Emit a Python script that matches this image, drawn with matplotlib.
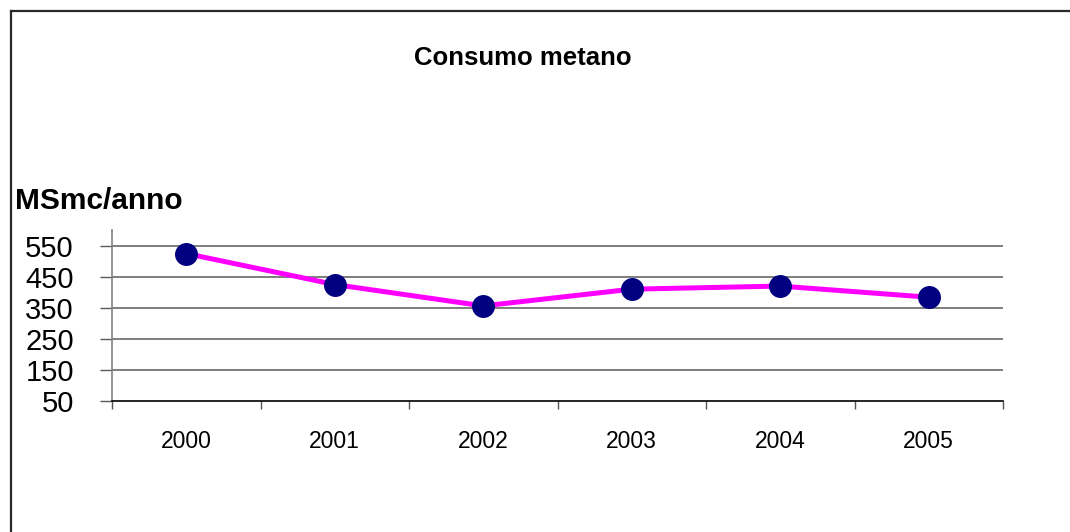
import matplotlib
matplotlib.use('Agg')
import matplotlib.pyplot as plt
from matplotlib.lines import Line2D
import numpy as np

plt.rcParams['font.family'] = ['Liberation Sans', 'DejaVu Sans']

# dati
anni = ['2000', '2001', '2002', '2003', '2004', '2005']
consumo = [526, 426, 357, 411, 421, 385]
y_ticks = [50, 150, 250, 350, 450, 550]

W, H = 1070, 532
fig = plt.figure(figsize=(W / 100, H / 100), dpi=100)
ax = fig.add_axes([112 / W, 1 - 401 / H, (1003 - 112) / W, (401 - 230) / H])

x = np.arange(len(anni))
ax.plot(x, consumo, color='#FF00FF', linewidth=3.6, zorder=3)
ax.plot(x, consumo, linestyle='none', marker='o', markersize=15.5,
        markerfacecolor='#000080', markeredgecolor='#000080', zorder=4)

ax.set_xlim(-0.5, len(anni) - 0.5)
ax.set_ylim(50, 602)

# griglia orizzontale
for v in y_ticks[1:]:
    ax.axhline(v, color='#5a5a5a', linewidth=1.1, zorder=1)

ax.set_yticks(y_ticks)
ax.set_yticklabels([str(v) for v in y_ticks], fontsize=21)
ax.tick_params(axis='y', length=8.5, width=1, color='#5a5a5a', pad=19)

# tacche tra le categorie, etichette al centro
ax.set_xticks(np.arange(-0.5, len(anni), 1.0))
ax.set_xticklabels([])
ax.set_xticks(x, minor=True)
ax.set_xticklabels(anni, minor=True, fontsize=16.5)
ax.tick_params(axis='x', which='major', length=6, width=1, color='#555555')
ax.tick_params(axis='x', which='minor', length=0, pad=21)

ax.spines['top'].set_visible(False)
ax.spines['right'].set_visible(False)
ax.spines['left'].set_color('#808080')
ax.spines['left'].set_linewidth(1.2)
ax.spines['bottom'].set_color('black')
ax.spines['bottom'].set_linewidth(1.2)

fig.text(523 / W, 1 - 65 / H, 'Consumo metano', ha='center', va='baseline',
         fontsize=18.5, fontweight='bold')
fig.text(15 / W, 1 - 209 / H, 'MSmc/anno', ha='left', va='baseline',
         fontsize=21.5, fontweight='bold')

# cornice esterna
fig.add_artist(Line2D([11 / W, 11 / W], [0, 1 - 11 / H], transform=fig.transFigure,
                      color='#2a2a2a', linewidth=1.6))
fig.add_artist(Line2D([11 / W, 1], [1 - 11 / H, 1 - 11 / H], transform=fig.transFigure,
                      color='#2a2a2a', linewidth=1.6))

fig.savefig('out.png', dpi=100, facecolor='white')
